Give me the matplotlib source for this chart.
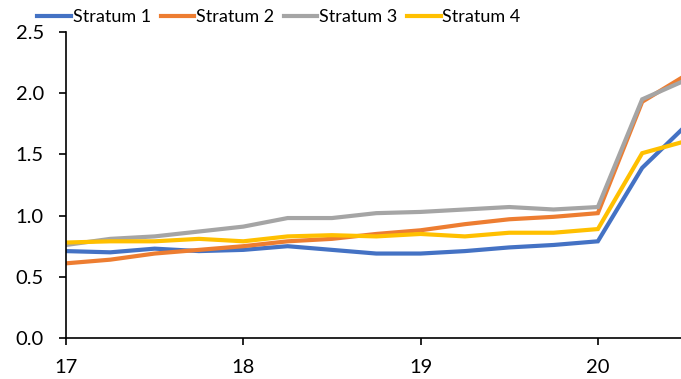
import matplotlib
matplotlib.use('Agg')
import matplotlib.pyplot as plt

# quarterly points, 17.0 .. 20.5
x = [17.0, 17.25, 17.5, 17.75, 18.0, 18.25, 18.5, 18.75,
     19.0, 19.25, 19.5, 19.75, 20.0, 20.25, 20.5]

stratum1 = [0.71, 0.70, 0.73, 0.71, 0.72, 0.75, 0.72, 0.69,
            0.69, 0.71, 0.74, 0.76, 0.79, 1.39, 1.74]
stratum2 = [0.61, 0.64, 0.69, 0.72, 0.75, 0.79, 0.81, 0.85,
            0.88, 0.93, 0.97, 0.99, 1.02, 1.93, 2.15]
stratum3 = [0.76, 0.81, 0.83, 0.87, 0.91, 0.98, 0.98, 1.02,
            1.03, 1.05, 1.07, 1.05, 1.07, 1.95, 2.11]
stratum4 = [0.78, 0.79, 0.79, 0.81, 0.79, 0.83, 0.84, 0.83,
            0.85, 0.83, 0.86, 0.86, 0.89, 1.51, 1.61]

labels = ['Stratum 1', 'Stratum 2', 'Stratum 3', 'Stratum 4']
colors = ['#4472C4', '#ED7D31', '#A5A5A5', '#FFC000']

plt.rcParams['font.family'] = ['Lato', 'DejaVu Sans']

fig = plt.figure(figsize=(6.81, 3.79), dpi=100)
ax = fig.add_axes([66 / 681, 1 - 338 / 379, 1 - 66 / 681, (338 - 32) / 379])

for ys, lab, c in zip([stratum1, stratum2, stratum3, stratum4], labels, colors):
    ax.plot(x, ys, color=c, lw=3, label=lab, solid_joinstyle='miter')

ax.set_xlim(17, 20.469)
ax.set_ylim(0, 2.5)
ax.set_xticks([17, 18, 19, 20])
ax.set_yticks([0.0, 0.5, 1.0, 1.5, 2.0, 2.5])
ax.set_yticklabels(['0.0', '0.5', '1.0', '1.5', '2.0', '2.5'])
ax.tick_params(axis='both', labelsize=14.5, length=5, width=1.2, direction='out')
ax.tick_params(axis='x', pad=10)
ax.tick_params(axis='y', pad=11)
ax.spines['top'].set_visible(False)
ax.spines['right'].set_visible(False)
ax.spines['left'].set_linewidth(1.2)
ax.spines['bottom'].set_linewidth(1.2)

fig.legend(loc='center', bbox_to_anchor=(279 / 681, 1 - 17 / 379), ncol=4,
           frameon=False, fontsize=13, handlelength=1.85, handletextpad=0.1,
           columnspacing=0.55, borderaxespad=0)

plt.savefig('out.png', dpi=100)
